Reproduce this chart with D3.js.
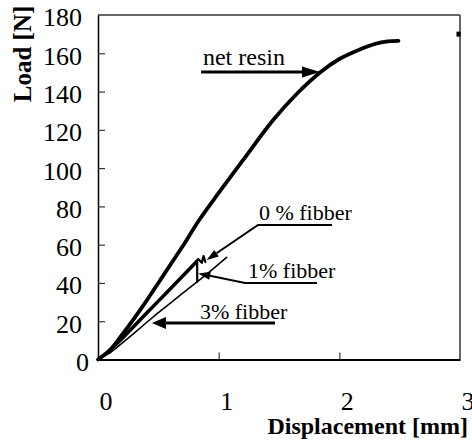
<!DOCTYPE html>
<html><head><meta charset="utf-8">
<script src="https://cdn.jsdelivr.net/npm/d3@7"></script>
<style>html,body{margin:0;padding:0;background:#fff}svg{display:block}
svg text{font-family:"Liberation Serif","Times New Roman",Times,serif !important}</style>
</head><body>
<script>
// ---- data ----
const xTicks = [0, 1, 2, 3];
const yTicks = [0, 20, 40, 60, 80, 100, 120, 140, 160, 180];

const resinDisp = [0, 0.1, 0.2, 0.3, 0.4, 0.5, 0.6, 0.7, 0.84, 1.0, 1.2, 1.45, 1.65, 1.84, 2.0, 2.17, 2.3, 2.4, 2.49];
const resinLoad = [0, 5, 13, 21.5, 30.5, 40, 49.5, 59, 73, 87, 104, 125, 139, 150, 157, 162, 165, 166.2, 166.5];

const f0Disp = [0, 0.1, 0.2, 0.3, 0.4, 0.5, 0.6, 0.7, 0.8, 0.83, 0.86, 0.875, 0.89];
const f0Load = [0, 5, 11.5, 18, 24.5, 31, 37.5, 44, 50.5, 52.5, 50.5, 54, 51];

const f1Disp = [0, 0.1, 0.2, 0.3, 0.4, 0.5, 0.6, 0.7, 0.8, 0.822, 0.822];
const f1Load = [0, 4.5, 10.5, 17, 23.5, 30, 36.5, 43, 49.5, 51, 40.6];

const f3Disp = [0, 0.1, 0.2, 0.3, 0.4, 0.5, 0.6, 0.7, 0.8, 0.9, 1.0, 1.066];
const f3Load = [0, 3.5, 8.5, 13.8, 19.2, 24.5, 29.5, 34.5, 39.5, 44.5, 49.8, 53.4];

const seriesNames = ["net resin", "0 % fibber", "1% fibber", "3% fibber"];

// ---- layout ----
const W = 472, H = 440;
const svg = d3.select("body").append("svg").attr("width", W).attr("height", H);
const x = d3.scaleLinear().domain([0, 3]).range([98, 460]);
const y = d3.scaleLinear().domain([0, 180]).range([359.5, 15]);

// frame
svg.append("line").attr("x1", x(0)).attr("x2", x(3)).attr("y1", y(180)).attr("y2", y(180))
  .attr("stroke", "#333").attr("stroke-width", 1.5);
svg.append("line").attr("x1", x(3)).attr("x2", x(3)).attr("y1", y(180)).attr("y2", y(0))
  .attr("stroke", "#333").attr("stroke-width", 1.5);
svg.append("rect").attr("x", x(3) - 3.5).attr("y", y(170) - 2.5).attr("width", 4).attr("height", 5).attr("fill", "#000");

// axes
const gy = svg.append("g").attr("transform", `translate(${x(0)},0)`)
  .call(d3.axisLeft(y).tickValues(yTicks).tickFormat(d3.format("d")).tickSize(-7).tickSizeOuter(0).tickPadding(16));
gy.select(".domain").attr("stroke", "#000").attr("stroke-width", 1.5);
gy.selectAll(".tick line").attr("stroke", "#333").attr("stroke-width", 1.2);
gy.selectAll(".tick text").attr("font-size", 26).attr("fill", "#000")
  .attr("dy", "0.42em").attr("dx", d => d === 0 ? 7 : 0);
gy.selectAll(".tick").filter(d => d === 0 || d === 180).select("line").remove();

const gx = svg.append("g").attr("transform", `translate(0,${y(0)})`)
  .call(d3.axisBottom(x).tickValues(xTicks).tickFormat(d3.format("d")).tickSize(-7).tickSizeOuter(0).tickPadding(32));
gx.select(".domain").attr("stroke", "#000").attr("stroke-width", 2.2);
gx.selectAll(".tick line").attr("stroke", "#333").attr("stroke-width", 1.2);
gx.selectAll(".tick text").attr("font-size", 26).attr("fill", "#000")
  .attr("dx", 7.5);
gx.selectAll(".tick").filter(d => d === 0 || d === 3).select("line").remove();

// axis titles
svg.append("text").attr("transform", "translate(31,54) rotate(-90)").attr("text-anchor", "middle")
  .attr("font-weight", "bold").attr("font-size", 25).text("Load [N]");
svg.append("text").attr("x", 468).attr("y", 433.5).attr("text-anchor", "end")
  .attr("font-weight", "bold").attr("font-size", 24).text("Displacement [mm]");

// curves
const line = d3.line().x(d => x(d[0])).y(d => y(d[1]));
function draw(ds, ls, w, curve) {
  const pts = ds.map((d, i) => [d, ls[i]]);
  svg.append("path").attr("d", line.curve(curve)(pts)).attr("fill", "none").attr("stroke", "#000")
    .attr("stroke-width", w).attr("stroke-linejoin", "round").attr("stroke-linecap", "round");
}
draw(f3Disp, f3Load, 1.6, d3.curveLinear);
draw(f1Disp, f1Load, 2.2, d3.curveLinear);
draw(f0Disp, f0Load, 2.2, d3.curveLinear);
draw(resinDisp, resinLoad, 3.8, d3.curveCatmullRom);

// annotations (arrow polylines in data units, last point = tip)
function arrow(pts, sw, hl, hw) {
  const p = pts.map(d => [x(d[0]), y(d[1])]);
  const a = p[p.length - 2], b = p[p.length - 1];
  const dx = b[0] - a[0], dy = b[1] - a[1], L = Math.hypot(dx, dy);
  const ux = dx / L, uy = dy / L;
  const base = [b[0] - ux * hl, b[1] - uy * hl];
  const q = p.slice(0, -1).concat([base]);
  svg.append("path").attr("d", d3.line()(q)).attr("fill", "none").attr("stroke", "#000").attr("stroke-width", sw);
  svg.append("path").attr("d", d3.line()([b, [base[0] - uy * hw, base[1] + ux * hw], [base[0] + uy * hw, base[1] - ux * hw]]) + "Z")
    .attr("fill", "#000");
}
function label(t, dx, ld, fs) {
  svg.append("text").attr("x", x(dx)).attr("y", y(ld)).attr("font-size", fs).text(t);
}
label(seriesNames[0], 0.87, 153.9, 24);
arrow([[0.854, 150.2], [1.84, 150.2]], 3, 18, 5.5);

label(seriesNames[1], 1.334, 72.9, 22);
arrow([[1.939, 70.3], [1.326, 70.3], [0.90, 52.0]], 2, 12, 4);

label(seriesNames[2], 1.243, 42.6, 22);
arrow([[1.815, 40.0], [1.218, 40.0], [0.831, 45.0]], 2, 12, 4);

label(seriesNames[3], 0.845, 21.2, 22);
arrow([[1.467, 19.1], [0.447, 19.1]], 3, 14, 6);
</script>
</body></html>
